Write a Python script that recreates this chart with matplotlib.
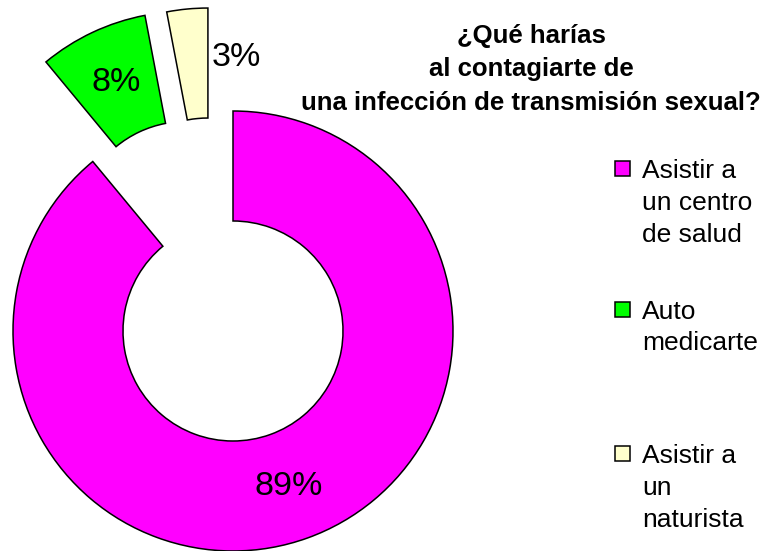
import matplotlib
matplotlib.use("Agg")
import matplotlib.pyplot as plt
from matplotlib.patches import Rectangle

# Survey answers (percent)
categories = ["Asistir a\nun centro\nde salud", "Auto\nmedicarte", "Asistir a\nun\nnaturista"]
values = [89, 8, 3]
colors = ["#FF00FF", "#00FF00", "#FFFFCC"]
explode = [0.0, 0.5, 0.48]
title = "¿Qué harías\nal contagiarte de\nuna infección de transmisión sexual?"

W, H, DPI = 768, 551, 100
fig = plt.figure(figsize=(W / DPI, H / DPI), dpi=DPI)
ax = fig.add_axes([0, 0, 1, 1])

# ring centre (pixels) and outer radius (pixels)
cx, cy, R = 233, 331, 220

wedges, texts, autotexts = ax.pie(
    values,
    colors=colors,
    startangle=90,
    counterclock=False,
    radius=1.0,
    explode=explode,
    autopct=lambda p: f"{p:.0f}%",
    pctdistance=0.75,
    wedgeprops=dict(width=0.5, edgecolor="black", linewidth=1.1),
    textprops=dict(fontsize=24.5, family="Liberation Sans", color="black"),
)

# small slice sits a little further left; its label goes beside it
wedges[2].set_center((-0.114, 0.468))
autotexts[2].set_position(((236 - cx) / R, (cy - 58) / R))
autotexts[2].set_va("center")

ax.set_aspect("auto")
ax.set_xlim(-cx / R, (W - cx) / R)
ax.set_ylim(-(H - cy) / R, cy / R)
ax.axis("off")

# title (baseline of the last line)
fig.text(531 / W, 1 - 110 / H, title, ha="center", va="baseline",
         multialignment="center", fontsize=18.5, fontweight="bold",
         family="Liberation Sans", linespacing=1.5)

# legend entries: first-line baselines in pixels
baselines = [177, 318, 462]
for lab, col, b in zip(categories, colors, baselines):
    nlines = lab.count("\n")
    fig.add_artist(Rectangle((615 / W, 1 - (b - 1) / H), 15 / W, 15 / H,
                             transform=fig.transFigure, facecolor=col,
                             edgecolor="black", linewidth=1.1))
    fig.text(642 / W, 1 - (b + 32.5 * nlines) / H, lab, ha="left",
             va="baseline", fontsize=19, family="Liberation Sans",
             linespacing=1.42)

fig.savefig("out.png", dpi=DPI)
